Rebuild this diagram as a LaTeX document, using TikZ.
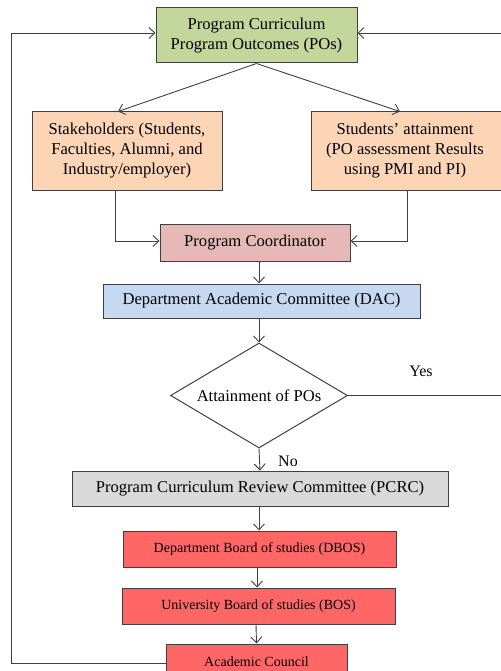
\documentclass[tikz,border=0pt]{standalone}
\usepackage{fontspec}
\setmainfont{Liberation Serif}
\usetikzlibrary{arrows.meta,shapes.geometric}
\definecolor{pogreen}{HTML}{C3D69B}
\definecolor{peach}{HTML}{FBD5B5}
\definecolor{rosy}{HTML}{E6B9B8}
\definecolor{paleblue}{HTML}{C6D9F1}
\definecolor{lightgrey}{HTML}{D9D9D9}
\definecolor{boardred}{HTML}{FF6666}
\definecolor{linegrey}{HTML}{404040}
\begin{document}
\begin{tikzpicture}[x=1pt,y=-1pt,
  box/.style={draw=linegrey,line width=1pt,rectangle,inner sep=0pt,align=center,
    font=\fontsize{16.6}{20}\selectfont},
  smallbox/.style={box,font=\fontsize{14}{17}\selectfont},
  arr/.style={draw=linegrey,line width=0.9pt,-{Straight Barb[length=6pt,width=11pt]}},
  lbl/.style={font=\fontsize{16}{19}\selectfont,inner sep=0pt}]
\useasboundingbox (0,0) rectangle (500,671);

% boxes
\node[box,fill=pogreen,minimum width=201pt,minimum height=55pt] (top) at (256.5,35.5)
  {Program Curriculum\\Program Outcomes (POs)};
\node[box,fill=peach,minimum width=190pt,minimum height=78pt] (sh) at (127,151)
  {Stakeholders (Students,\\Faculties, Alumni, and\\Industry/employer)};
\node[box,fill=peach,minimum width=196pt,minimum height=78pt] (sa) at (409,151)
  {\hspace*{-8pt}Students' attainment\\\hspace*{-8pt}(PO assessment Results\\\hspace*{-8pt}using PMI and PI)};
\node[box,fill=rosy,minimum width=190pt,minimum height=37pt] (pc) at (255,243)
  {Program Coordinator};
\node[box,fill=paleblue,minimum width=317pt,minimum height=34pt] (dac) at (261.5,301)
  {Department Academic Committee (DAC)};
\node[draw=linegrey,line width=1pt,diamond,aspect=1.686,inner sep=0pt,minimum width=177pt,
  minimum height=105pt,font=\fontsize{16.6}{20}\selectfont] (dia) at (259,395.5)
  {Attainment of POs};
\node[box,fill=lightgrey,minimum width=376pt,minimum height=35pt] (pcrc) at (260,488.5)
  {Program Curriculum Review Committee (PCRC)};
\node[smallbox,fill=boardred,minimum width=273pt,minimum height=36pt] (dbos) at (259.5,549)
  {Department Board of studies (DBOS)};
\node[smallbox,fill=boardred,minimum width=273pt,minimum height=36pt] (bos) at (258.5,606)
  {University Board of studies (BOS)};
\node[smallbox,fill=boardred,minimum width=181pt,minimum height=36pt] (ac) at (256.5,662)
  {Academic Council};

% labels
\node[lbl] (yes) at (421,371) {Yes};
\node[lbl] (no) at (288,461) {No};

% top to the two inputs
\draw[arr] (top.south) -- ([xshift=-9pt]sh.north);
\draw[arr] (top.south) -- ([xshift=-9pt]sa.north);

% inputs into the coordinator
\draw[arr] ([xshift=-12pt]sh.south) |- ([yshift=2pt]pc.west);
\draw[arr] ([xshift=-2pt]sa.south) |- ([yshift=2pt]pc.east);

% main chain
\draw[arr] ([xshift=4pt]pc.south) -- ([xshift=-2.5pt]dac.north);
\draw[arr] ([xshift=-2.5pt]dac.south) -- (dia.north);
\draw[arr] (dia.south) -- (pcrc.north);
\draw[arr] ([xshift=-1pt]pcrc.south) -- ([xshift=-0.5pt]dbos.north);
\draw[arr] ([xshift=-2.5pt]dbos.south) -- ([xshift=-1.5pt]bos.north);
\draw[arr] ([xshift=-2.5pt]bos.south) -- (ac.north);

% feedback loops
\coordinate (lc) at (11,33);
\coordinate (rc) at (504,33);
\draw[arr] ([yshift=-1pt]ac.west) -| (lc) -- (lc -| top.west);
\draw[arr] (dia.east) -| (rc) -- (rc -| top.east);
\end{tikzpicture}
\end{document}
